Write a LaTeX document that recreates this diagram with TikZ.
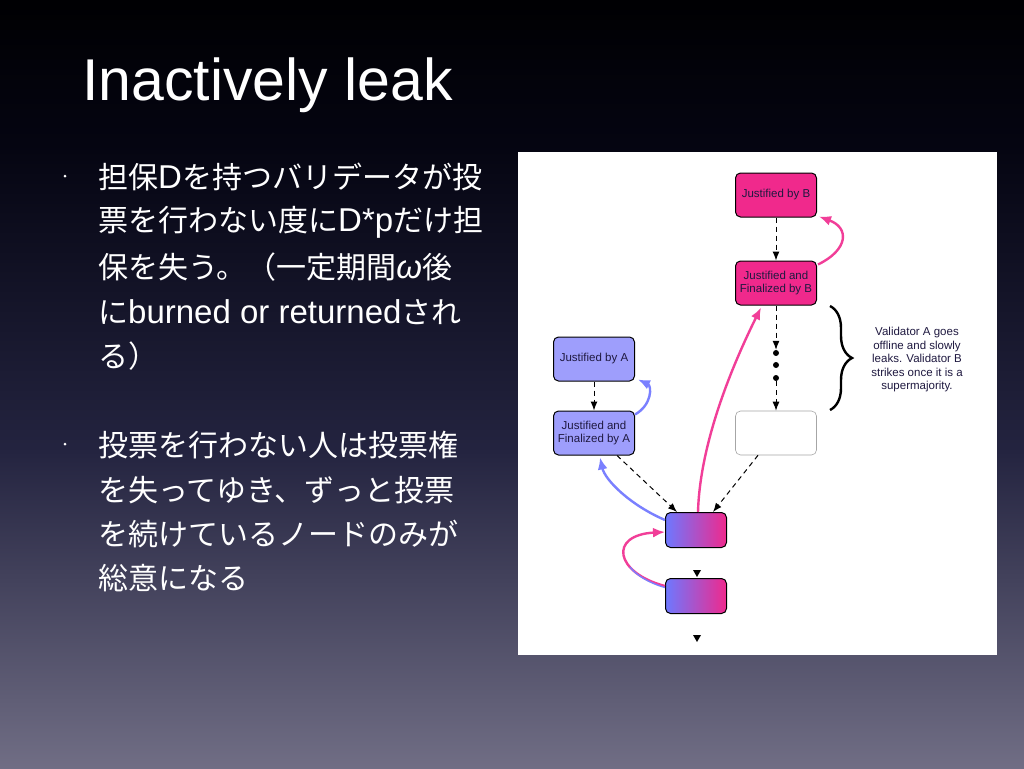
\documentclass[tikz,border=0pt]{standalone}
\usepackage{fontspec}
\setmainfont{Liberation Sans}
\newfontfamily\jp{Noto Sans CJK JP}
\usepackage{tikz}
\usetikzlibrary{calc,arrows.meta,decorations.pathreplacing}

\newcommand\lat[1]{{\rmfamily\fontsize{33}{30}\selectfont #1}}

\tikzset{
  blk/.style={draw=black, line width=1pt, rounded corners=5pt, minimum width=81pt, minimum height=44pt,
    inner sep=1pt, align=center, text=navytxt, font=\fontsize{11.5}{13}\selectfont},
  grd/.style={draw=black, line width=1pt, rounded corners=5pt, minimum width=61pt, minimum height=35pt,
    left color=gblue, right color=mypink},
  dsh/.style={->, dashed, dash pattern=on 5pt off 4pt, line width=1pt},
  pk/.style={-{Latex[length=12pt,width=10pt]}, line width=2.4pt, mypink!90!white},
  bl/.style={-{Latex[length=12pt,width=10pt]}, line width=2.4pt, myblue},
  jtxt/.style={anchor=west, inner sep=0pt, text=white, font=\jp\fontsize{30}{30}\selectfont},
  dot/.style={circle, fill=black, inner sep=0pt, minimum size=6pt}
}

\begin{document}
\begin{tikzpicture}[x=1pt,y=1pt,yscale=-1,xscale=1,>={Latex[length=9pt,width=7pt]}]

\definecolor{mypink}{rgb}{0.94, 0.16, 0.55}
\definecolor{mylav}{rgb}{0.62, 0.62, 0.99}
\definecolor{myblue}{rgb}{0.48, 0.50, 1.00}
\definecolor{gblue}{rgb}{0.43, 0.47, 1.00}
\definecolor{navytxt}{rgb}{0.12, 0.10, 0.25}
\definecolor{bga}{rgb}{0.00, 0.00, 0.01}
\definecolor{bgb}{rgb}{0.02, 0.02, 0.07}
\definecolor{bgc}{rgb}{0.14, 0.14, 0.25}
\definecolor{bgd}{rgb}{0.44, 0.43, 0.52}

\useasboundingbox (0,0) rectangle (1024,768);
\shade[top color=bga, bottom color=bgb] (0,0) rectangle (1024,151);
\shade[top color=bgb, bottom color=bgc] (0,150) rectangle (1024,451);
\shade[top color=bgc, bottom color=bgd] (0,450) rectangle (1024,768);

% title and bullets
\node[anchor=base west, inner sep=0pt, text=white, font=\fontsize{59}{59}\selectfont] (title) at (82,100) {Inactively leak};

\fill[white] (65,176) circle (1.5);
\node[jtxt] (l1) at (98,177) {担保\lat{D}を持つバリデータが投};
\node[jtxt] (l2) at (98,222) {票を行わない度に\lat{D*p}だけ担};
\node[jtxt] (l3) at (98,267) {保を失う。（一定期間\lat{\itshape ω}後};
\node[jtxt] (l4) at (98,312) {に\lat{burned or returned}され};
\node[jtxt] (l5) at (98,356) {る）};

\fill[white] (65,444) circle (1.5);
\node[jtxt] (l6) at (98,445) {投票を行わない人は投票権};
\node[jtxt] (l7) at (98,490) {を失ってゆき、ずっと投票};
\node[jtxt] (l8) at (98,534) {を続けているノードのみが};
\node[jtxt] (l9) at (98,578) {総意になる};

% panel
\fill[white] (518,152) rectangle (997,655);

\node[blk, fill=mypink] (jb) at (776,195) {Justified by B};
\node[blk, fill=mypink] (jfb) at (776,283) {Justified and\\Finalized by B};
\node[blk, fill=mylav] (ja) at (594,359) {Justified by A};
\node[blk, fill=mylav] (jfa) at (594,433) {Justified and\\Finalized by A};
\node[blk, draw=black!35, line width=0.6pt] (emp) at (776,433) {};
\node[grd] (g1) at (696,530) {};
\node[grd] (g2) at (696,596) {};

\node[dot] (d1) at (776,353) {};
\node[dot] (d2) at (776,365) {};
\node[dot] (d3) at (776,378) {};

\draw[dsh] (jb) -- (jfb);
\draw[dsh] (jfb) -- (d1);
\draw[dsh] (d3) -- (emp);
\draw[dsh] (ja) -- (jfa);
\draw[dsh] ($(jfa.south)+(23,0)$) -- ($(g1.north)+(-19,0)$);
\draw[dsh] ($(emp.south)+(-18,0)$) -- ($(g1.north)+(17,0)$);

\draw[pk] ($(jfb.north east)+(1,4)$) .. controls (848,250) and (850,228) .. ($(jb.south east)+(2,-1)$);
\draw[pk] ($(g1.north)+(2,0)$) .. controls (700,440) and (735,360) .. ($(jfb.south west)+(26,2)$);
\draw[bl] ($(jfa.north east)+(0,4)$) .. controls (652,405) and (652,386) .. ($(ja.south east)+(3,-2)$);
\draw[bl] ($(g1.west)+(0,-10)$) .. controls (630,505) and (605,480) .. ($(jfa.south)+(6,2)$);
\draw[pk] ($(g2.west)+(0,-10)$) .. controls (615,573) and (608,535) .. ($(g1.west)+(0,2)$);
\draw[line width=1.4pt, myblue] ($(g2.west)+(0,-8.5)$) .. controls (649,583) and (636,575) .. (630,567);

% dangling heads
\fill (693,570) -- (701,570) -- (697,577) -- cycle;
\fill (693,635) -- (701,635) -- (697,642) -- cycle;

% brace and note
\draw[decorate, decoration={brace, amplitude=22pt}, line width=2.4pt] (830,306) -- (830,410);
\node[align=center, text=navytxt, font=\fontsize{11.5}{13.5}\selectfont] (note) at (917,360)
  {Validator A goes\\offline and slowly\\leaks. Validator B\\strikes once it is a\\supermajority.};

\end{tikzpicture}
\end{document}
